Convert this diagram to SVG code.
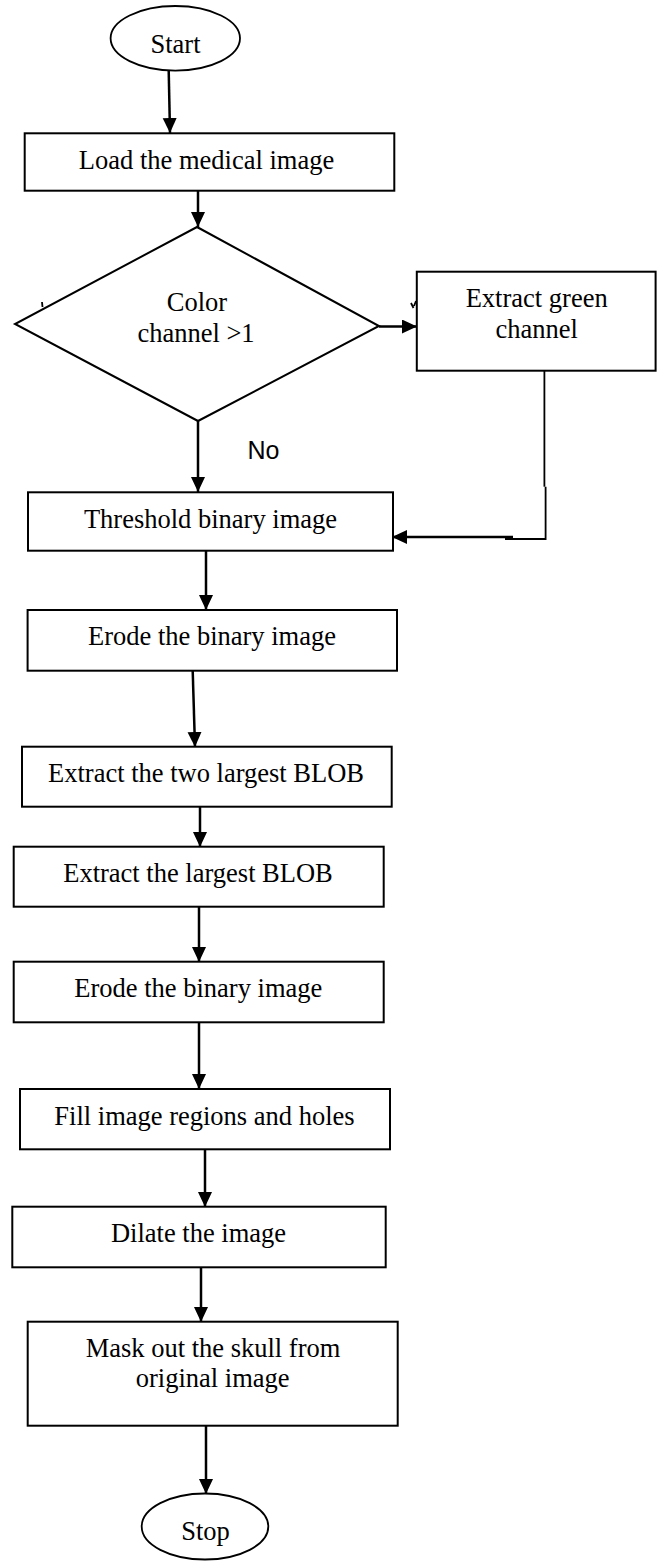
<svg xmlns="http://www.w3.org/2000/svg" width="657" height="1562" viewBox="0 0 657 1562">
<defs>
<marker id="ah" markerWidth="16" markerHeight="16" refX="15" refY="7" orient="auto" markerUnits="userSpaceOnUse">
<path d="M0,0 L15,7 L0,14 Z" fill="#000"/>
</marker>
<style>
.box{fill:#fff;stroke:#000;stroke-width:2}
.term{fill:#fff;stroke:#000;stroke-width:1.8}
.t{font-family:"Liberation Serif","Times New Roman",serif;font-size:26.5px;fill:#000;text-anchor:middle}
.c{fill:none;stroke:#000;stroke-width:2.5}
.thin{fill:none;stroke:#000;stroke-width:1.8}
</style>
</defs>
<rect width="657" height="1562" fill="#fff"/>
<g id="connectors">
<path class="c" d="M168.7,71 L170,133" marker-end="url(#ah)"/>
<path class="c" d="M198,191 L198,227" marker-end="url(#ah)"/>
<path class="c" d="M379,326.5 L417,326.5" marker-end="url(#ah)"/>
<path class="c" d="M198,421 L198,492" marker-end="url(#ah)"/>
<path class="thin" d="M544.4,371 L544.4,486.7"/>
<path class="thin" d="M545.6,486.7 L545.6,539 L505,539"/>
<path class="c" d="M513,537 L392,537" marker-end="url(#ah)"/>
<path class="c" d="M206,551 L206,610" marker-end="url(#ah)"/>
<path class="c" d="M192.7,671 L195,747" marker-end="url(#ah)"/>
<path class="c" d="M200,807 L200,847" marker-end="url(#ah)"/>
<path class="c" d="M199,907 L199,962" marker-end="url(#ah)"/>
<path class="c" d="M199,1022 L199,1089" marker-end="url(#ah)"/>
<path class="c" d="M205,1149 L205,1207" marker-end="url(#ah)"/>
<path class="c" d="M201,1267 L201,1322" marker-end="url(#ah)"/>
<path class="c" d="M206,1426 L206,1494" marker-end="url(#ah)"/>
<path class="thin" d="M42,302 L42.5,307" stroke-width="1.2"/>
<path class="thin" d="M411,303 L413.5,308 M416,301 L414,306" stroke-width="1.2"/>
<text x="263.5" y="459.3" style="font-family:'Liberation Sans',Arial,sans-serif;font-size:25px;text-anchor:middle">No</text>
</g>
<g id="start">
<ellipse class="term" cx="175.3" cy="38.3" rx="64.7" ry="32.3"/>
<text class="t" x="175.5" y="52.7">Start</text>
</g>
<g id="load">
<rect class="box" x="24.7" y="133.3" width="369.6" height="57.4"/>
<text class="t" x="206.5" y="169.3">Load the medical image</text>
</g>
<g id="decision">
<path class="box" d="M197,227 L379,326 L198,421 L15,324 Z" stroke-width="1.8"/>
<text class="t" x="197" y="310.7">Color</text>
<text class="t" x="196" y="341.7">channel &gt;1</text>
</g>
<g id="green">
<rect class="box" x="416.8" y="271.7" width="238.8" height="99"/>
<text class="t" x="536.7" y="307">Extract green</text>
<text class="t" x="536.7" y="338.3">channel</text>
</g>
<g id="threshold">
<rect class="box" x="28" y="492.3" width="365" height="58.4"/>
<text class="t" x="210.5" y="528.3">Threshold binary image</text>
</g>
<g id="erode1">
<rect class="box" x="27.6" y="610" width="369.4" height="60.7"/>
<text class="t" x="212" y="645">Erode the binary image</text>
</g>
<g id="extract2">
<rect class="box" x="22" y="746.7" width="369.7" height="60"/>
<text class="t" x="206" y="781.7">Extract the two largest BLOB</text>
</g>
<g id="extract1">
<rect class="box" x="13.7" y="846.7" width="370" height="60"/>
<text class="t" x="198" y="881.7">Extract the largest BLOB</text>
</g>
<g id="erode2">
<rect class="box" x="13.7" y="961.7" width="370" height="60.6"/>
<text class="t" x="198.3" y="996.7">Erode the binary image</text>
</g>
<g id="fill">
<rect class="box" x="20" y="1089" width="370" height="60.3"/>
<text class="t" x="204.5" y="1125">Fill image regions and holes</text>
</g>
<g id="dilate">
<rect class="box" x="12.3" y="1206.7" width="373.4" height="60.6"/>
<text class="t" x="198.5" y="1242.3">Dilate the image</text>
</g>
<g id="mask">
<rect class="box" x="27.7" y="1321.7" width="370" height="104"/>
<text class="t" x="213" y="1356.7">Mask out the skull from</text>
<text class="t" x="212.7" y="1387.3">original image</text>
</g>
<g id="stop">
<ellipse class="term" cx="205" cy="1526.5" rx="63.3" ry="33"/>
<text class="t" x="205.5" y="1540">Stop</text>
</g>
</svg>
